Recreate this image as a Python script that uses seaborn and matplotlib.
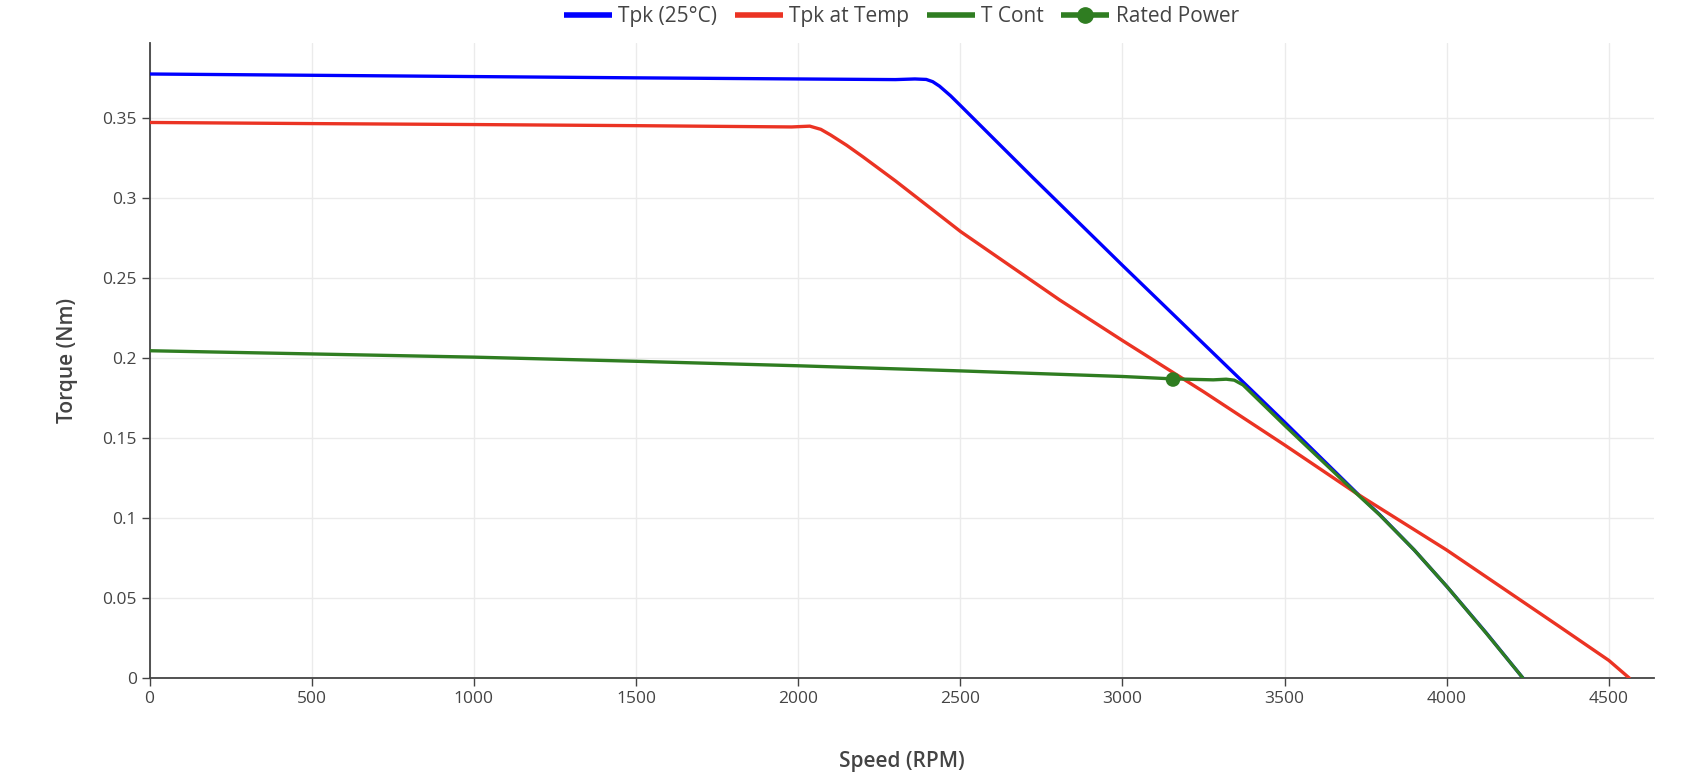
import numpy as np
import pandas as pd
import matplotlib
matplotlib.use("Agg")
import matplotlib.pyplot as plt
import seaborn as sns
from matplotlib.lines import Line2D

# ---- data ----
speed_tpk25 = [0, 500, 1000, 1500, 2000, 2300, 2360, 2395, 2415, 2436, 2470, 2500, 2600,
               2723, 3000, 3250, 3500, 3721, 3793, 3900, 4001, 4122, 4235]
tpk25 = [0.3776, 0.3768, 0.3760, 0.3752, 0.3745, 0.3741, 0.3745, 0.3742, 0.3728, 0.3700,
         0.3640, 0.3580, 0.3378, 0.3130, 0.2580, 0.2090, 0.1600, 0.1160, 0.1022, 0.0800,
         0.0571, 0.0282, 0.0]

speed_tpk_temp = [0, 500, 1000, 1500, 1980, 2036, 2070, 2100, 2150, 2200, 2250, 2300,
                  2501, 2806, 3000, 3250, 3500, 3721, 4000, 4348, 4500, 4563]
tpk_temp = [0.3473, 0.3466, 0.3460, 0.3453, 0.3445, 0.3450, 0.3430, 0.3395, 0.3330,
            0.3258, 0.3183, 0.3108, 0.2791, 0.2364, 0.2110, 0.1790, 0.1457, 0.1155,
            0.0800, 0.0321, 0.0110, 0.0]

speed_tcont = [0, 500, 1000, 1500, 2000, 2500, 3000, 3156, 3280, 3320, 3345, 3372,
               3502, 3721, 3793, 3900, 4001, 4122, 4235]
tcont = [0.2046, 0.2026, 0.2006, 0.1980, 0.1952, 0.1920, 0.1885, 0.1870, 0.1864, 0.1868,
         0.1862, 0.1832, 0.1576, 0.1155, 0.1020, 0.0800, 0.0571, 0.0280, 0.0]

rated_speed = [3156]
rated_torque = [0.1866]

series_names = ["Tpk (25°C)", "Tpk at Temp", "T Cont", "Rated Power"]
colors = ["#0000FF", "#EB3323", "#2F7D21", "#2F7D21"]

x_ticks = [0, 500, 1000, 1500, 2000, 2500, 3000, 3500, 4000, 4500]
y_ticks = [0, 0.05, 0.1, 0.15, 0.2, 0.25, 0.3, 0.35]
y_tick_labels = ["0", "0.05", "0.1", "0.15", "0.2", "0.25", "0.3", "0.35"]

# ---- plotting ----
sns.set_theme(style="white")
plt.rcParams["font.family"] = ["Open Sans", "DejaVu Sans"]

fig = plt.figure(figsize=(16.88, 7.77), dpi=100)
ax = fig.add_axes([0.0886, 0.1274, 0.8914, 0.8173])

lw = 2.4
sns.lineplot(x=speed_tpk25, y=tpk25, ax=ax, color=colors[0], lw=lw, sort=False, zorder=3)
sns.lineplot(x=speed_tpk_temp, y=tpk_temp, ax=ax, color=colors[1], lw=lw, sort=False, zorder=4)
sns.lineplot(x=speed_tcont, y=tcont, ax=ax, color=colors[2], lw=lw, sort=False, zorder=5)
sns.scatterplot(x=rated_speed, y=rated_torque, ax=ax, color=colors[3], s=110,
                edgecolor="none", zorder=6)
for ln in ax.get_lines():
    ln.set_solid_joinstyle("round")
    ln.set_solid_capstyle("round")

ax.set_xlim(0, 4640)
ax.set_ylim(0, 0.397)
ax.set_xticks(x_ticks)
ax.set_xticklabels([str(t) for t in x_ticks])
ax.set_yticks(y_ticks)
ax.set_yticklabels(y_tick_labels)

ax.grid(True, color="#ebebeb", linewidth=1.0)
ax.set_axisbelow(True)
for s in ["top", "right"]:
    ax.spines[s].set_visible(False)
for s in ["left", "bottom"]:
    ax.spines[s].set_color("#444444")
    ax.spines[s].set_linewidth(1.3)

ax.tick_params(axis="both", which="both", direction="out", length=6, width=1,
               color="#444444", labelcolor="#444444", labelsize=12.5, pad=3,
               bottom=True, left=True)

ax.set_xlabel("Speed (RPM)", fontsize=15, color="#444444", fontweight="semibold", labelpad=32)
ax.set_ylabel("Torque (Nm)", fontsize=15, color="#444444", fontweight="semibold", labelpad=18)

handles = [
    Line2D([0], [0], color=colors[0], lw=4.0, solid_capstyle="butt"),
    Line2D([0], [0], color=colors[1], lw=4.0, solid_capstyle="butt"),
    Line2D([0], [0], color=colors[2], lw=4.0, solid_capstyle="butt"),
    Line2D([0], [0], color=colors[3], lw=4.0, solid_capstyle="butt", marker="o", markersize=11),
]
fig.legend(handles, series_names, loc="center", bbox_to_anchor=(0.534, 0.979), ncol=4,
           frameon=False, fontsize=15, handlelength=2.3, handletextpad=0.3,
           columnspacing=0.85, labelcolor="#444444", borderpad=0.1)

fig.savefig("out.png", dpi=100, facecolor="white")
